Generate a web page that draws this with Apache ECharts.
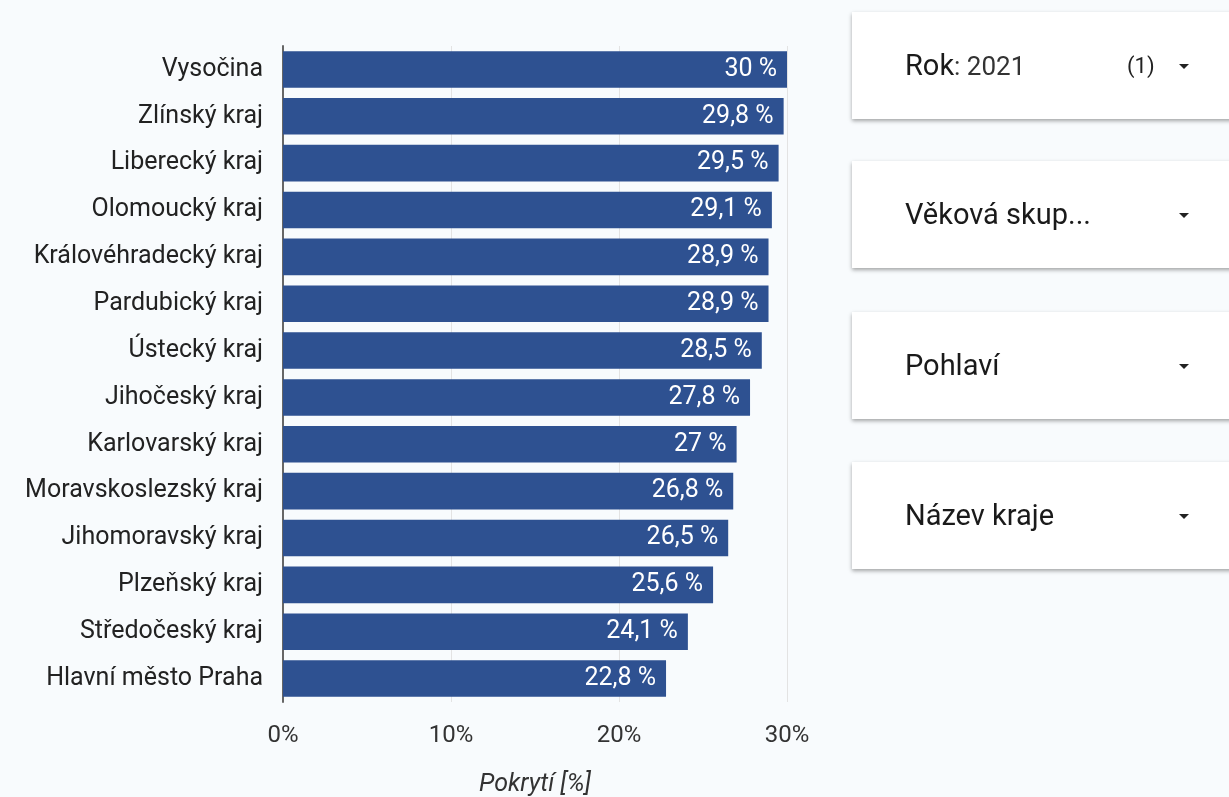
<!DOCTYPE html>
<html>
<head>
<meta charset="utf-8">
<script src="https://cdn.jsdelivr.net/npm/echarts@6/dist/echarts.min.js"></script>
<style>
html,body{margin:0;padding:0;background:#f8fbfd;}
#c{width:1229px;height:797px;}
</style>
</head>
<body>
<div id="c"></div>
<script>
const categories = ["Vysočina","Zlínský kraj","Liberecký kraj","Olomoucký kraj","Královéhradecký kraj","Pardubický kraj","Ústecký kraj","Jihočeský kraj","Karlovarský kraj","Moravskoslezský kraj","Jihomoravský kraj","Plzeňský kraj","Středočeský kraj","Hlavní město Praha"];
const values = [30, 29.8, 29.5, 29.1, 28.9, 28.9, 28.5, 27.8, 27, 26.8, 26.5, 25.6, 24.1, 22.8];
const axisTitle = "Pokrytí [%]";
const filters = [
  {label: "Rok", value: ": 2021", count: "(1)"},
  {label: "Věková skup...", value: "", count: ""},
  {label: "Pohlaví", value: "", count: ""},
  {label: "Název kraje", value: "", count: ""}
];

const FONT = "Roboto, 'Noto Sans', sans-serif";
const cardTops = [12, 161, 312, 462];
const graphics = [];
filters.forEach((f, i) => {
  const top = cardTops[i];
  graphics.push({
    type: 'rect', left: 852, top: top, z: 10,
    shape: {width: 400, height: 107},
    style: {fill: '#ffffff', shadowBlur: 4, shadowOffsetY: 2, shadowColor: 'rgba(0,0,0,0.35)'}
  });
  graphics.push({
    type: 'text', x: 905, y: top + 56, z: 11,
    style: {
      text: '{a|' + f.label + '}' + (f.value ? '{b|' + f.value + '}' : ''),
      verticalAlign: 'middle', align: 'left',
      rich: {
        a: {fontSize: 29, fontFamily: FONT, fill: '#1a1a1a'},
        b: {fontSize: 26, fontFamily: FONT, fill: '#333333'}
      }
    }
  });
  if (f.count) {
    graphics.push({
      type: 'text', x: 1127, y: top + 55, z: 11,
      style: {text: f.count, fontSize: 22, fontFamily: FONT, fill: '#222', verticalAlign: 'middle', align: 'left'}
    });
  }
  graphics.push({
    type: 'polygon', z: 11,
    shape: {points: [[1179, top + 52], [1189, top + 52], [1184, top + 57]]},
    style: {fill: '#222'}
  });
});

const chart = echarts.init(document.getElementById('c'));
chart.setOption({
  backgroundColor: '#f8fbfd',
  animation: false,
  grid: {left: 283, right: 442, top: 46, bottom: 95, containLabel: false, outerBoundsMode: 'none'},
  xAxis: {
    type: 'value', min: 0, max: 30, interval: 10,
    name: axisTitle, nameLocation: 'middle', nameGap: 70,
    nameTextStyle: {fontSize: 25, fontStyle: 'italic', fontFamily: FONT, color: '#333'},
    axisLine: {show: false}, axisTick: {show: false},
    axisLabel: {formatter: '{value}%', fontSize: 24, fontFamily: FONT, color: '#333', margin: 22},
    splitLine: {show: true, lineStyle: {color: '#e3e3e3', width: 1}}
  },
  yAxis: {
    type: 'category', data: categories, inverse: true,
    axisLine: {show: true, lineStyle: {color: '#666', width: 2}},
    axisTick: {show: false},
    axisLabel: {fontSize: 25, fontFamily: FONT, color: '#222', margin: 20}
  },
  series: [{
    type: 'bar', data: values, barCategoryGap: '22%',
    itemStyle: {color: '#2e5191'},
    label: {
      show: true, position: 'insideRight', distance: 10,
      fontSize: 25, fontFamily: FONT, color: '#ffffff',
      formatter: p => String(p.value).replace('.', ',') + ' %'
    }
  }],
  graphic: graphics
});
</script>
</body>
</html>
